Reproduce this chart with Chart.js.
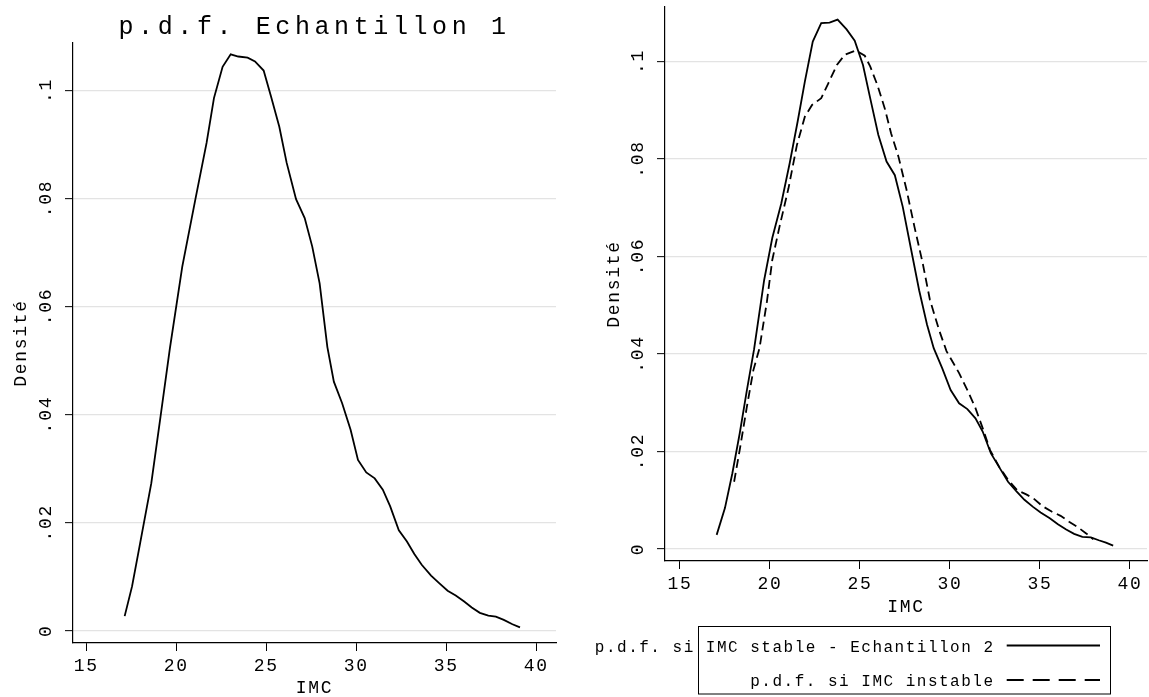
<!DOCTYPE html>
<html>
<head>
<meta charset="utf-8">
<title>p.d.f. IMC</title>
<script src="https://cdn.jsdelivr.net/npm/chart.js@4.4.0/dist/chart.umd.min.js"></script>
<style>
    html, body { margin: 0; padding: 0; background: #fff; }
    #wrap { position: relative; width: 1149px; height: 697px; overflow: hidden; }
    #left { position: absolute; left: 0; top: 0; }
    #right { position: absolute; left: 580px; top: 0; }
</style>
</head>
<body>
<div id="wrap">
    <canvas id="left" width="580" height="697"></canvas>
    <canvas id="right" width="569" height="697"></canvas>
</div>
<script>
'use strict';

// Echantillon 1
var imc1 = [17.14, 17.55, 18.0, 18.62, 19.13, 19.65, 20.34, 21.07, 21.69, 22.1, 22.58, 23.03, 23.45, 23.97, 24.38, 24.86,
    25.27, 25.73, 26.14, 26.66, 27.14, 27.56, 27.97, 28.4, 28.76, 29.22, 29.69, 30.1, 30.56, 31.03, 31.48, 31.89,
    32.37, 32.82, 33.23, 33.64, 34.16, 34.61, 35.08, 35.53, 36.0, 36.42, 36.87, 37.34, 37.76, 38.2, 38.68, 39.1];
var dens1 = [0.0027, 0.0082, 0.0162, 0.0273, 0.0396, 0.0522, 0.0674, 0.0799, 0.0903, 0.0986, 0.1044, 0.1067, 0.1063, 0.1061, 0.1054, 0.1037,
    0.0989, 0.0933, 0.0866, 0.0799, 0.0764, 0.0711, 0.0643, 0.0525, 0.0461, 0.0421, 0.0372, 0.0316, 0.0293, 0.0282, 0.0261, 0.023,
    0.0186, 0.0165, 0.0142, 0.0122, 0.0102, 0.0088, 0.0074, 0.0065, 0.0054, 0.0043, 0.0033, 0.0028, 0.0026, 0.002, 0.0012, 0.0006];

// Echantillon 2, IMC stable
var imcStable = [17.04, 17.5, 17.91, 18.32, 18.72, 19.12, 19.68, 20.13, 20.63, 21.1, 21.54, 21.94, 22.38, 22.85, 23.31, 23.76,
    24.26, 24.71, 25.17, 25.57, 26.02, 26.48, 26.94, 27.38, 27.83, 28.29, 28.73, 29.1, 29.57, 30.04, 30.51, 30.97,
    31.42, 31.82, 32.28, 32.77, 33.23, 33.7, 34.14, 34.6, 35.04, 35.55, 36.0, 36.46, 36.9, 37.36, 37.83, 38.27, 38.67, 39.07];
var densStable = [0.0029, 0.0084, 0.0155, 0.0237, 0.0326, 0.041, 0.0552, 0.0638, 0.0709, 0.0792, 0.0877, 0.0959, 0.1041, 0.1079, 0.108, 0.1086,
    0.1066, 0.1043, 0.0993, 0.0925, 0.085, 0.0795, 0.0767, 0.0702, 0.0617, 0.0531, 0.046, 0.0412, 0.0371, 0.0326, 0.0299, 0.0287,
    0.0268, 0.0241, 0.0196, 0.0166, 0.0138, 0.0118, 0.0101, 0.0087, 0.0075, 0.0063, 0.0051, 0.004, 0.0031, 0.0025, 0.0024, 0.0018, 0.0013, 0.0007];

// Echantillon 2, IMC instable
var imcInstable = [18.01, 18.32, 18.72, 19.08, 19.42, 19.83, 20.13, 20.53, 21.03, 21.5, 21.94, 22.34, 22.85, 23.25, 23.72, 24.16,
    24.77, 25.27, 25.57, 25.97, 26.38, 26.73, 27.14, 27.59, 28.03, 28.49, 28.89, 29.4, 29.81, 30.51, 30.97, 31.42,
    31.82, 32.23, 32.73, 33.23, 33.73, 34.24, 34.64, 35.14, 35.65, 36.15, 36.62, 37.1, 37.57, 37.97];
var densInstable = [0.0138, 0.0203, 0.0292, 0.0367, 0.0412, 0.0507, 0.0593, 0.0661, 0.074, 0.0829, 0.0887, 0.0911, 0.0925, 0.0956, 0.0993, 0.1014,
    0.1023, 0.1012, 0.099, 0.0952, 0.0904, 0.0853, 0.0805, 0.0737, 0.0661, 0.0586, 0.0511, 0.0449, 0.0406, 0.0361, 0.0326, 0.0289,
    0.0248, 0.0203, 0.0169, 0.0142, 0.0121, 0.0112, 0.0104, 0.0088, 0.0077, 0.0068, 0.0056, 0.0045, 0.0032, 0.002];

var xTicks = [15, 20, 25, 30, 35, 40];
var yTicks = [0, 0.02, 0.04, 0.06, 0.08, 0.1];
var yTickLabels = ['0', '.02', '.04', '.06', '.08', '.1'];

var MONO = '"Liberation Mono", "DejaVu Sans Mono", monospace';

function toPoints(xs, ys) {
    return xs.map(function (x, i) {
        return {x: x, y: ys[i]};
    });
}

// Stata-like wide courier spacing; the title gets a wider one
var monoSpacing = {
    id: 'monoSpacing',
    beforeUpdate: function (chart) {
        chart.ctx.letterSpacing = '1.7px';
    },
    beforeDraw: function (chart) {
        var ctx = chart.ctx;
        ctx.letterSpacing = '1.7px';
        var tb = chart.titleBlock;
        if (tb && !tb._spaced) {
            var draw = tb.draw;
            tb.draw = function () {
                ctx.save();
                ctx.letterSpacing = '4.6px';
                draw.apply(this, arguments);
                ctx.restore();
            };
            tb._spaced = true;
        }
    }
};

// legend box like the Stata one (text overflowing on the left)
var boxLegend = {
    id: 'boxLegend',
    afterDraw: function (chart, args, o) {
        if (!o || !o.box) {
            return;
        }
        var ctx = chart.ctx;
        ctx.save();
        ctx.strokeStyle = '#000';
        ctx.lineWidth = 1;
        ctx.setLineDash([]);
        ctx.strokeRect(o.box[0], o.box[1], o.box[2], o.box[3]);
        ctx.font = '16px ' + MONO;
        ctx.letterSpacing = '1.5px';
        ctx.fillStyle = '#000';
        ctx.textAlign = 'right';
        ctx.textBaseline = 'alphabetic';
        chart.data.datasets.forEach(function (ds, i) {
            ctx.fillText(ds.label, o.textRight, o.baselines[i]);
            ctx.lineWidth = ds.borderWidth;
            ctx.setLineDash(ds.borderDash ? o.dash : []);
            ctx.beginPath();
            ctx.moveTo(o.lineX[0], o.baselines[i] - 6);
            ctx.lineTo(o.lineX[1], o.baselines[i] - 6);
            ctx.stroke();
        });
        ctx.restore();
    }
};

function makeScales(o) {
    return {
        x: {
            type: 'linear',
            min: o.xMin,
            max: o.xMax,
            afterBuildTicks: function (s) {
                s.ticks = xTicks.map(function (v) { return {value: v}; });
            },
            afterFit: function (s) {
                s.height = o.xHeight;
                s.paddingLeft = 0;
                s.paddingRight = 0;
            },
            grid: {drawOnChartArea: false, drawTicks: true, tickLength: 8, tickColor: '#000', tickWidth: 1},
            border: {color: '#000', width: 1.2},
            ticks: {
                color: '#000',
                autoSkip: false,
                maxRotation: 0,
                padding: 4,
                font: {family: MONO, size: 18}
            },
            title: {
                display: true,
                text: 'IMC',
                color: '#000',
                font: {family: MONO, size: 18, lineHeight: 1},
                padding: {top: 0, bottom: 0}
            }
        },
        y: {
            type: 'linear',
            min: o.yMin,
            max: o.yMax,
            afterBuildTicks: function (s) {
                s.ticks = yTicks.map(function (v) { return {value: v}; });
            },
            afterFit: function (s) {
                s.width = o.yWidth;
                s.paddingTop = 0;
                s.paddingBottom = 0;
            },
            grid: {color: '#e3e3e3', lineWidth: 1.3, tickLength: 8, tickColor: '#000', tickWidth: 1},
            border: {color: '#000', width: 1.2},
            ticks: {
                color: '#000',
                minRotation: 90,
                maxRotation: 90,
                crossAlign: 'center',
                padding: 0,
                font: {family: MONO, size: 18},
                callback: function (v) {
                    return yTickLabels[yTicks.indexOf(v)];
                }
            },
            title: {
                display: true,
                text: 'Densité',
                color: '#000',
                font: {family: MONO, size: 18, lineHeight: 1},
                padding: {top: o.yTitlePad, bottom: 0}
            }
        }
    };
}

var leftChart = new Chart(document.getElementById('left'), {
    type: 'line',
    data: {
        datasets: [
            {
                label: 'p.d.f. Echantillon 1',
                data: toPoints(imc1, dens1),
                borderColor: '#000',
                borderWidth: 1.8,
                pointRadius: 0,
                tension: 0,
                fill: false
            }
        ]
    },
    options: {
        responsive: false,
        animation: false,
        layout: {padding: {left: 0, right: 24, top: 0, bottom: 0}},
        scales: makeScales({xMin: 14.27, xMax: 41.1, yMin: -0.00228, yMax: 0.1088, xHeight: 54, yWidth: 73, yTitlePad: 12}),
        plugins: {
            legend: {display: false},
            tooltip: {enabled: false},
            title: {
                display: true,
                text: 'p.d.f. Echantillon 1',
                color: '#000',
                fullSize: false,
                font: {family: MONO, size: 25, weight: 'normal'},
                padding: {top: 12.5, bottom: 0.5}
            }
        }
    },
    plugins: [monoSpacing]
});

var rightChart = new Chart(document.getElementById('right'), {
    type: 'line',
    data: {
        datasets: [
            {
                label: 'p.d.f. si IMC stable - Echantillon 2',
                data: toPoints(imcStable, densStable),
                borderColor: '#000',
                borderWidth: 1.8,
                pointRadius: 0,
                tension: 0,
                fill: false
            },
            {
                label: 'p.d.f. si IMC instable',
                data: toPoints(imcInstable, densInstable),
                borderColor: '#000',
                borderWidth: 1.8,
                borderDash: [9, 5],
                pointRadius: 0,
                tension: 0,
                fill: false
            }
        ]
    },
    options: {
        responsive: false,
        animation: false,
        layout: {padding: {left: 0, right: 2, top: 7, bottom: 81}},
        scales: makeScales({xMin: 14.17, xMax: 40.95, yMin: -0.00246, yMax: 0.1112, xHeight: 55, yWidth: 85, yTitlePad: 25}),
        plugins: {
            legend: {display: false},
            tooltip: {enabled: false},
            boxLegend: {
                box: [118.5, 626.5, 412, 67.5],
                textRight: 414.5,
                baselines: [651.5, 686],
                lineX: [426.7, 520],
                dash: [17, 9]
            }
        }
    },
    plugins: [monoSpacing, boxLegend]
});
</script>
</body>
</html>
